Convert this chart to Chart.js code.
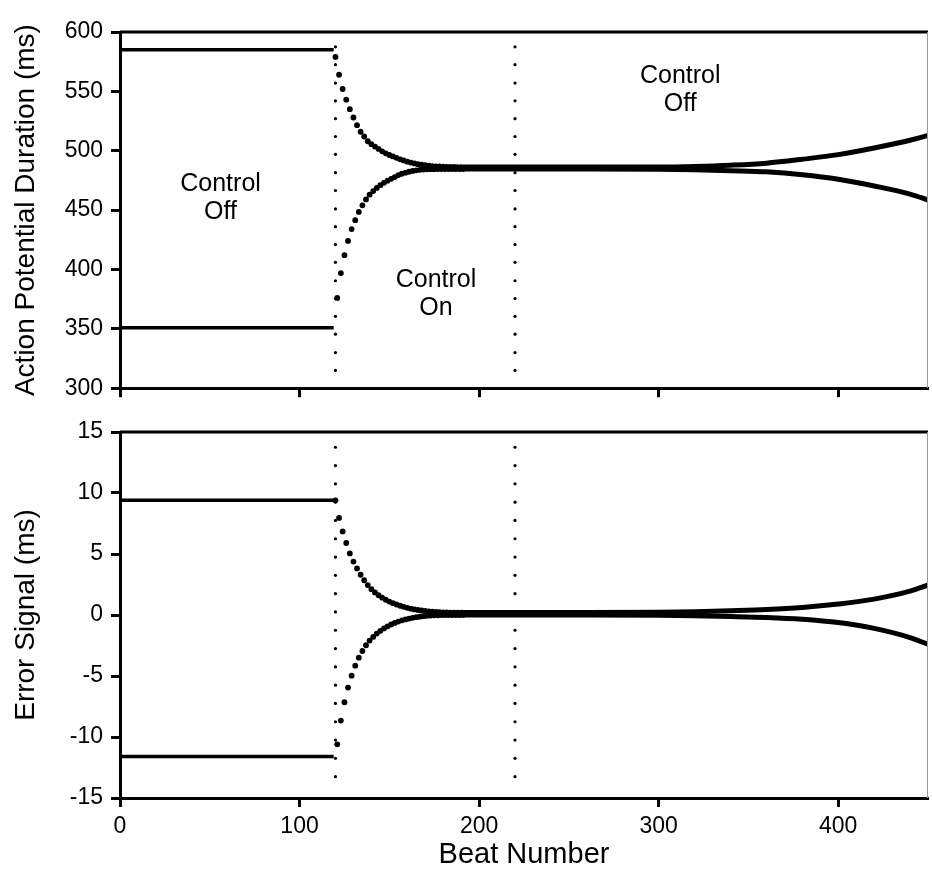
<!DOCTYPE html>
<html lang="en">
<head>
  <meta charset="UTF-8" />
  <title>APD alternans control</title>
  <script src="https://cdn.jsdelivr.net/npm/chart.js"></script>
  <style>
    html, body { margin: 0; padding: 0; background: #fff; }
    #wrap { position: relative; width: 932px; height: 890px; }
    #wrap canvas { position: absolute; left: 0; }
  </style>
</head>
<body>
  <div id="wrap">
    <canvas id="apdChart" width="932" height="410" style="top:0"></canvas>
    <canvas id="errChart" width="932" height="480" style="top:410px"></canvas>
  </div>

  <script>
    // axis ticks
    const xTicks = [0, 100, 200, 300, 400];
    const apdTicks = [300, 350, 400, 450, 500, 550, 600];
    const errTicks = [-15, -10, -5, 0, 5, 10, 15];

    // control switched on at beat 120 and off again at beat 220 (dotted markers)
    const markerBeats = [120, 220];
    const apdMarkerLevels = [315, 330, 345.5, 360.5, 375.5, 390.5, 406, 421, 436, 451, 466.5, 481.5, 497, 512, 527, 542, 557, 572.5, 587.5];
    const errMarkerLevels = [-13.25, -11.75, -10.25, -8.75, -7.25, -5.75, -4.25, -2.75, -1.25, 0.25, 1.75, 3.25, 4.75, 6.25, 7.75, 9.25, 10.75, 12.25, 13.75];

    // control off: steady alternans
    const offBeats = [0, 40, 80, 119];
    const apdLongOff = [585, 585, 585, 585];
    const apdShortOff = [351, 351, 351, 351];
    const errHighOff = [9.4, 9.4, 9.4, 9.4];
    const errLowOff = [-11.6, -11.6, -11.6, -11.6];

    // control on: transient, one point per beat on each branch
    const evenBeats = [120, 122, 124, 126, 128, 130, 132, 134, 136, 138, 140, 142, 144, 146, 148, 150, 152, 154,
      156, 158, 160, 162, 164, 166, 168, 170, 172, 174, 176, 178, 180, 182, 184, 186, 188, 190];
    const oddBeats = [121, 123, 125, 127, 129, 131, 133, 135, 137, 139, 141, 143, 145, 147, 149, 151, 153, 155,
      157, 159, 161, 163, 165, 167, 169, 171, 173, 175, 177, 179, 181, 183, 185, 187, 189, 191];
    const apdLongOn = [579, 564, 552, 543, 535, 528, 521.5, 516, 512, 508, 505.5, 503.5, 501.5, 499.5, 497.8, 496.4, 495.2, 494,
      492.8, 491.8, 490.8, 490, 489.3, 488.7, 488.2, 487.8, 487.4, 487.1, 486.9, 486.7, 486.5, 486.4, 486.3, 486.3, 486.2, 486.2];
    const apdShortOn = [376, 397, 412, 424, 434, 441.5, 448.5, 454, 459, 463, 466, 468.7, 471, 473, 474.8, 476.3, 477.8, 479.5,
      480.6, 481.5, 482.3, 483, 483.5, 483.9, 484.2, 484.4, 484.5, 484.5, 484.6, 484.6, 484.6, 484.6, 484.6, 484.6, 484.6, 484.6];
    const errHighOn = [9.4, 7.96, 6.85, 5.9, 5.05, 4.38, 3.82, 3.3, 2.85, 2.45, 2.12, 1.85, 1.62, 1.42, 1.25, 1.1, 0.97, 0.86,
      0.76, 0.67, 0.59, 0.52, 0.46, 0.41, 0.37, 0.33, 0.3, 0.27, 0.25, 0.23, 0.22, 0.21, 0.2, 0.2, 0.2, 0.2];
    const errLowOn = [-10.6, -8.65, -7.15, -5.95, -4.97, -4.15, -3.5, -2.95, -2.48, -2.1, -1.8, -1.52, -1.3, -1.1, -0.93, -0.78, -0.65, -0.54,
      -0.44, -0.36, -0.29, -0.23, -0.18, -0.14, -0.1, -0.07, -0.05, -0.03, -0.02, -0.01, 0, 0, 0, 0, 0, 0];

    // control off again: alternans slowly grows back
    const lateBeats = [191, 220, 260, 300, 320, 340, 360, 380, 400, 420, 440, 450];
    const apdLongLate = [486.2, 486.2, 486.2, 486.3, 486.8, 487.8, 489.5, 492.8, 496.7, 502.3, 508.8, 512.8];
    const apdShortLate = [484.6, 484.6, 484.6, 484.4, 484.0, 483.2, 482.2, 479.8, 476.0, 470.3, 463.5, 458.5];
    const errHighLate = [0.2, 0.2, 0.2, 0.22, 0.27, 0.35, 0.45, 0.62, 0.9, 1.3, 1.95, 2.45];
    const errLowLate = [0, 0, 0, -0.02, -0.06, -0.12, -0.2, -0.35, -0.62, -1.1, -1.85, -2.4];

    const pts = (xs, ys) => xs.map((x, i) => ({ x, y: ys[i] }));
    const markerPts = levels => markerBeats.flatMap(b => levels.map(v => ({ x: b, y: v })));

    const FONT = "'Liberation Sans', Arial, sans-serif";

    const lineSet = (data, width) => ({
      data, showLine: true, pointRadius: 0, borderColor: '#000', borderWidth: width,
      cubicInterpolationMode: 'monotone'
    });
    const dotSet = (data, r) => ({
      data, showLine: false, pointRadius: r, pointBackgroundColor: '#000', pointBorderWidth: 0
    });

    // frame: thick top edge, thin grey right edge, plus the text labels
    const framePlugin = {
      id: 'frame',
      afterDatasetsDraw(chart, args, opts) {
        const { ctx, chartArea: a, scales } = chart;
        ctx.save();
        ctx.strokeStyle = '#000';
        ctx.lineWidth = 3;
        ctx.beginPath();
        ctx.moveTo(a.left, a.top);
        ctx.lineTo(a.right, a.top);
        ctx.stroke();
        ctx.strokeStyle = '#999';
        ctx.lineWidth = 1;
        ctx.beginPath();
        ctx.moveTo(a.right - 0.5, a.top);
        ctx.lineTo(a.right - 0.5, a.bottom);
        ctx.stroke();
        ctx.fillStyle = '#000';
        ctx.font = '25px ' + FONT;
        ctx.textAlign = 'center';
        ctx.textBaseline = 'middle';
        (opts.notes || []).forEach(n => {
          const x = scales.x.getPixelForValue(n.beat);
          const y = scales.y.getPixelForValue(n.val);
          ctx.fillText(n.lines[0], x, y - 14);
          ctx.fillText(n.lines[1], x, y + 14);
        });
        ctx.restore();
      }
    };

    function axisX(showLabels, fitHeight) {
      return {
        type: 'linear', min: 0, max: 450,
        afterBuildTicks: s => { s.ticks = xTicks.map(v => ({ value: v })); },
        afterFit: s => { s.height = fitHeight; },
        grid: { drawOnChartArea: false, drawTicks: true, tickLength: 9, tickWidth: 3, tickColor: '#000' },
        border: { display: true, width: 3, color: '#000' },
        ticks: { display: showLabels, color: '#000', font: { family: FONT, size: 23 }, padding: 6, maxRotation: 0 },
        title: { display: showLabels, text: 'Beat Number', color: '#000', font: { family: FONT, size: 29 }, padding: { top: 4, bottom: 4 } }
      };
    }

    function axisY(min, max, ticks, label) {
      return {
        type: 'linear', min, max,
        afterBuildTicks: s => { s.ticks = ticks.map(v => ({ value: v })); },
        afterFit: s => { s.width = 120; },
        grid: { drawOnChartArea: false, drawTicks: true, tickLength: 9, tickWidth: 3, tickColor: '#000' },
        border: { display: true, width: 3, color: '#000' },
        ticks: { color: '#000', font: { family: FONT, size: 23 }, padding: 8, callback: v => String(v) },
        title: { display: true, text: label, color: '#000', font: { family: FONT, size: 28 }, padding: { top: 9, bottom: 0 } }
      };
    }

    const common = {
      responsive: false,
      animation: false,
      events: [],
      plugins: { legend: { display: false }, tooltip: { enabled: false } }
    };

    // top panel: action potential duration
    new Chart(document.getElementById('apdChart'), {
      type: 'scatter',
      data: {
        datasets: [
          lineSet(pts(offBeats, apdLongOff), 3.5),
          lineSet(pts(offBeats, apdShortOff), 3.5),
          dotSet(pts(evenBeats, apdLongOn), 2.9),
          dotSet(pts(oddBeats, apdShortOn), 2.9),
          lineSet(pts(lateBeats, apdLongLate), 5),
          lineSet(pts(lateBeats, apdShortLate), 5),
          dotSet(markerPts(apdMarkerLevels), 1.6)
        ]
      },
      options: {
        ...common,
        layout: { padding: { top: 32, right: 0, bottom: 0, left: 0 } },
        scales: {
          x: axisX(false, 15),
          y: axisY(300, 600, apdTicks, 'Action Potential Duration (ms)')
        },
        plugins: {
          ...common.plugins,
          frame: {
            notes: [
              { lines: ['Control', 'Off'], beat: 56, val: 460 },
              { lines: ['Control', 'On'], beat: 176, val: 379 },
              { lines: ['Control', 'Off'], beat: 312, val: 551 }
            ]
          }
        }
      },
      plugins: [framePlugin]
    });

    // bottom panel: error signal
    new Chart(document.getElementById('errChart'), {
      type: 'scatter',
      data: {
        datasets: [
          lineSet(pts(offBeats, errHighOff), 3.5),
          lineSet(pts(offBeats, errLowOff), 3.5),
          dotSet(pts(evenBeats, errHighOn), 2.9),
          dotSet(pts(oddBeats, errLowOn), 2.9),
          lineSet(pts(lateBeats, errHighLate), 5),
          lineSet(pts(lateBeats, errLowLate), 5),
          dotSet(markerPts(errMarkerLevels), 1.6)
        ]
      },
      options: {
        ...common,
        layout: { padding: { top: 22, right: 0, bottom: 14, left: 0 } },
        scales: {
          x: axisX(true, 78),
          y: axisY(-15, 15, errTicks, 'Error Signal (ms)')
        },
        plugins: { ...common.plugins, frame: { notes: [] } }
      },
      plugins: [framePlugin]
    });
  </script>
</body>
</html>
